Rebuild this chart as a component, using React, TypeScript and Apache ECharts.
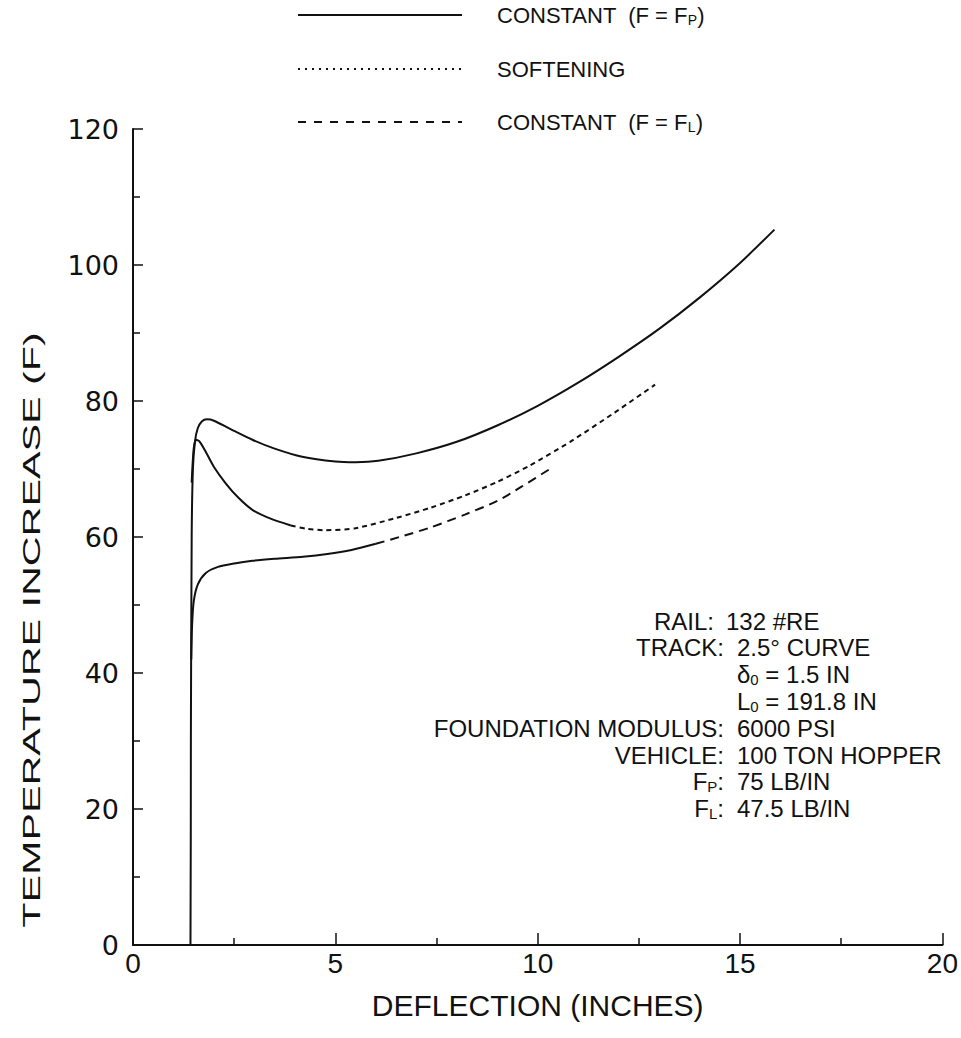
import React, { useEffect, useRef } from 'react';
import * as echarts from 'echarts';

// CONSTANT (F = FP) — solid curve including the baseline and vertical rise at delta0
const upperX = [0, 1.42, 1.43, 1.45, 1.48, 1.53, 1.6, 1.7, 1.83, 2.0, 2.4, 2.95, 3.5, 4.18, 5.0, 5.5, 6.06, 7.0, 8.0, 9.0, 10.0, 11.0, 12.0, 13.0, 14.0, 15.0, 15.85];
const upperY = [0, 0, 30, 60, 70, 74, 76, 77, 77.3, 77.1, 75.9, 74.3, 73.0, 71.8, 71.1, 71.0, 71.2, 72.3, 74.0, 76.4, 79.3, 82.7, 86.5, 90.6, 95.2, 100.3, 105.2];

// SOFTENING — solid start, then dotted
const midX = [1.45, 1.5, 1.56, 1.65, 1.8, 2.0, 2.29, 2.6, 2.95, 3.4, 3.9];
const midY = [68, 73, 74.3, 74.0, 72.5, 70.3, 67.9, 65.8, 64.0, 62.7, 61.7];
const softX = [3.9, 4.3, 4.75, 5.5, 6.5, 7.35, 8.2, 9.0, 9.8, 10.8, 11.9, 12.9];
const softY = [61.7, 61.2, 61.0, 61.3, 62.8, 64.3, 66.1, 68.1, 70.5, 74.0, 78.3, 82.4];

// CONSTANT (F = FL) — solid start, then dashed
const lowX = [1.44, 1.46, 1.5, 1.6, 1.8, 2.1, 2.5, 2.95, 3.5, 4.2, 4.8, 5.4, 6.0];
const lowY = [42, 47, 50.5, 53.0, 54.7, 55.6, 56.1, 56.5, 56.8, 57.1, 57.5, 58.1, 59.0];
const lowDashX = [6.0, 6.7, 7.35, 8.2, 9.0, 9.6, 10.3];
const lowDashY = [59.0, 60.2, 61.4, 63.3, 65.3, 67.4, 70.0];

const legendTexts = [
  '{m|CONSTANT  (F = F}{s|P}{m|)}',
  '{m|SOFTENING}',
  '{m|CONSTANT  (F = F}{s|L}{m|)}',
];
const legendDashes: (number[] | null)[] = [null, [2, 5], [8, 8]];

const annoLabels = ['RAIL:', 'TRACK:', '', '', 'FOUNDATION MODULUS:', 'VEHICLE:', '{m|F}{s|P}{m|:}', '{m|F}{s|L}{m|:}'];
const annoValues = [
  '{m|132 #RE}',
  '{m|2.5° CURVE}',
  '{m|δ}{s|0}{m| = 1.5 IN}',
  '{m|L}{s|0}{m| = 191.8 IN}',
  '{m|6000 PSI}',
  '{m|100 TON HOPPER}',
  '{m|75 LB/IN}',
  '{m|47.5 LB/IN}',
];

const INK = '#111';
const SANS = '"Liberation Sans", Arial, sans-serif';

const zip = (xs: number[], ys: number[]) => xs.map((x, i) => [x, ys[i]]);

const richStyles = (size: number) => ({
  m: { fontSize: size, fontFamily: SANS, fill: INK, color: INK, lineHeight: Math.round(size * 1.05) },
  s: {
    fontSize: Math.round(size * 0.64),
    fontFamily: SANS,
    fill: INK,
    color: INK,
    lineHeight: Math.round(size * 0.5),
    padding: [Math.round(size * 0.42), 0, 0, 0],
  },
});

export default function App() {
  const ref = useRef<HTMLDivElement>(null);
  useEffect(() => {
    const chart = echarts.init(ref.current!, null, { renderer: 'svg' });
    const graphics: any[] = [];
    const legendY = [15, 69, 122];
    legendTexts.forEach((t, i) => {
      graphics.push({
        type: 'line',
        shape: { x1: 298, y1: legendY[i], x2: 462, y2: legendY[i] },
        style: { stroke: INK, lineWidth: i === 0 ? 2.2 : 2, lineDash: legendDashes[i] || undefined },
      });
      graphics.push({
        type: 'text',
        x: 497,
        y: legendY[i],
        style: { text: t, rich: richStyles(22), fill: INK, align: 'left', verticalAlign: 'middle' },
      });
    });
    const rowY0 = 621;
    const rowGap = 26.8;
    annoLabels.forEach((t, i) => {
      if (t) {
        graphics.push({
          type: 'text',
          x: i === 0 ? 714 : 724,
          y: rowY0 + i * rowGap,
          style: {
            text: t.startsWith('{') ? t : `{m|${t}}`,
            rich: richStyles(24),
            fill: INK,
            align: 'right',
            verticalAlign: 'middle',
          },
        });
      }
      graphics.push({
        type: 'text',
        x: i === 0 ? 726 : 737,
        y: rowY0 + i * rowGap,
        style: { text: annoValues[i], rich: richStyles(24), fill: INK, align: 'left', verticalAlign: 'middle' },
      });
    });
    graphics.push({
      type: 'text',
      x: 31,
      y: 630,
      rotation: Math.PI / 2,
      scaleX: 1.72,
      style: {
        text: 'TEMPERATURE INCREASE (F)',
        font: `24px ${SANS}`,
        fill: INK,
        align: 'center',
        verticalAlign: 'middle',
      },
    });

    const base = { type: 'line', showSymbol: false, symbol: 'none', smooth: 0.25, silent: true };
    chart.setOption({
      animation: false,
      backgroundColor: '#fff',
      grid: { left: 133, right: 15, top: 129, bottom: 93, containLabel: false },
      xAxis: {
        type: 'value',
        min: 0,
        max: 20,
        interval: 5,
        axisLine: { lineStyle: { color: INK, width: 2 } },
        axisTick: { inside: true, length: 12, lineStyle: { color: INK, width: 1.5 } },
        minorTick: { show: true, splitNumber: 2, length: 7, lineStyle: { color: INK, width: 1.5 } },
        splitLine: { show: false },
        axisLabel: { fontFamily: SANS, fontSize: 28, color: INK, margin: 4 },
        name: 'DEFLECTION (INCHES)',
        nameLocation: 'middle',
        nameGap: 45,
        nameTextStyle: { fontFamily: SANS, fontSize: 30, color: INK },
      },
      yAxis: {
        type: 'value',
        min: 0,
        max: 120,
        interval: 20,
        axisLine: { lineStyle: { color: INK, width: 2 } },
        axisTick: { inside: true, length: 10, lineStyle: { color: INK, width: 1.5 } },
        minorTick: { show: true, splitNumber: 2, length: 7, lineStyle: { color: INK, width: 1.5 } },
        splitLine: { show: false },
        axisLabel: { fontFamily: '"DejaVu Sans", sans-serif', fontSize: 27, color: INK, margin: 14 },
      },
      series: [
        { ...base, name: 'CONSTANT (F = FP)', data: zip(upperX, upperY), lineStyle: { color: INK, width: 2 } },
        { ...base, name: 'SOFTENING solid', data: zip(midX, midY), lineStyle: { color: INK, width: 2 } },
        { ...base, name: 'SOFTENING', data: zip(softX, softY), lineStyle: { color: INK, width: 2, type: [5, 4] } },
        { ...base, name: 'CONSTANT (F = FL) solid', data: zip(lowX, lowY), lineStyle: { color: INK, width: 2 } },
        { ...base, name: 'CONSTANT (F = FL)', data: zip(lowDashX, lowDashY), lineStyle: { color: INK, width: 2, type: [9, 6] } },
      ],
      graphic: graphics,
    });
    return () => chart.dispose();
  }, []);
  return <div ref={ref} style={{ position: 'absolute', left: 0, top: 0, width: 961, height: 1038 }} />;
}
